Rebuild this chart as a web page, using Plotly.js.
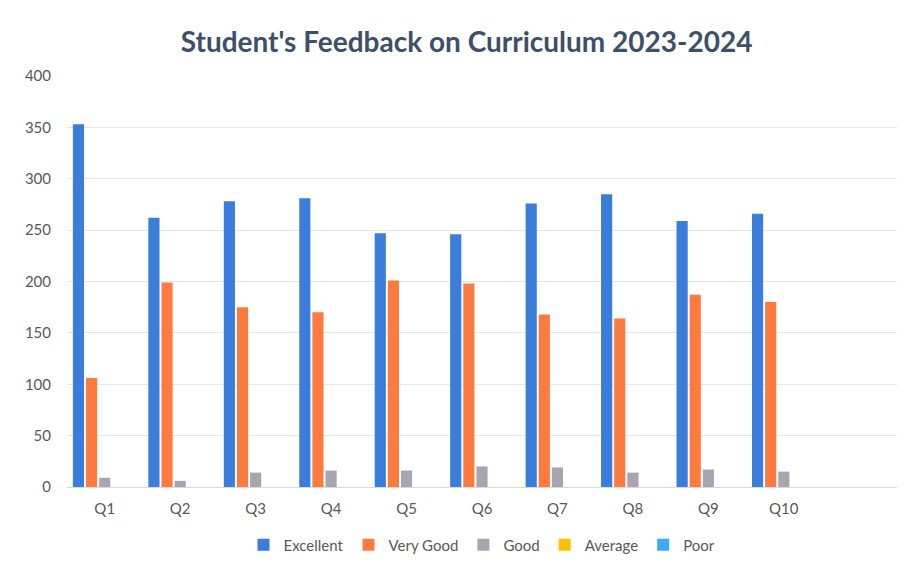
<!DOCTYPE html>
<html>
<head>
<meta charset="utf-8">
<script src="https://cdn.plot.ly/plotly-3.0.1.min.js"></script>
<style>html,body{margin:0;padding:0;background:#fff;}#chart{width:906px;height:566px;}</style>
</head>
<body>
<div id="chart"></div>
<script>
const categories = ['Q1','Q2','Q3','Q4','Q5','Q6','Q7','Q8','Q9','Q10'];
const excellent = [353, 262, 278, 281, 247, 246, 276, 285, 259, 266];
const veryGood  = [106, 199, 175, 170, 201, 198, 168, 164, 187, 180];
const good      = [9, 6, 14, 16, 16, 20, 19, 14, 17, 15];
const average   = [0, 0, 0, 0, 0, 0, 0, 0, 0, 0];
const poor      = [0, 0, 0, 0, 0, 0, 0, 0, 0, 0];
const seriesNames = ['Excellent','Very Good','Good','Average','Poor'];
const seriesColors = ['#3A7DDA','#FF7A3F','#A9A5B0','#FFC000','#3FA9F5'];
const seriesValues = [excellent, veryGood, good, average, poor];

const data = seriesValues.map((vals, i) => ({
  type: 'bar',
  name: seriesNames[i],
  x: categories,
  y: vals,
  marker: {color: seriesColors[i]},
  hoverinfo: 'x+y+name'
}));

const layout = {
  width: 906, height: 566,
  margin: {l: 67, r: 9, t: 76, b: 79},
  paper_bgcolor: '#ffffff',
  plot_bgcolor: '#ffffff',
  font: {family: 'Lato, "Open Sans", sans-serif', color: '#595959', size: 15},
  title: {
    text: "Student's Feedback on Curriculum 2023-2024",
    font: {family: 'Lato, "Open Sans", sans-serif', size: 28, color: '#3E5068', weight: 'bold'},
    x: 0.515, xanchor: 'center', y: 0.925, yanchor: 'middle'
  },
  barmode: 'group',
  bargap: 0.13,
  bargroupgap: 0.15,
  xaxis: {
    type: 'category',
    categoryorder: 'array',
    categoryarray: categories,
    range: [-0.5, 10.5],
    automargin: false,
    showgrid: false,
    showline: true,
    linecolor: '#D9D9D9',
    linewidth: 1,
    ticks: '',
    ticklabelstandoff: 8,
    tickfont: {size: 15, color: '#595959'},
    zeroline: false
  },
  yaxis: {
    range: [0, 400],
    dtick: 50,
    automargin: false,
    showgrid: true,
    gridcolor: '#E6E6E6',
    gridwidth: 1,
    zeroline: false,
    showline: false,
    ticks: '',
    ticklabelstandoff: 15,
    tickfont: {size: 15, color: '#595959'}
  },
  legend: {
    orientation: 'h',
    x: 0.5, xanchor: 'center',
    yref: 'container',
    y: 0.037, yanchor: 'middle',
    font: {size: 15, color: '#595959'},
    itemwidth: 30,
    traceorder: 'normal'
  },
  showlegend: true
};

Plotly.newPlot('chart', data, layout, {displayModeBar: false, staticPlot: true});
</script>
</body>
</html>
